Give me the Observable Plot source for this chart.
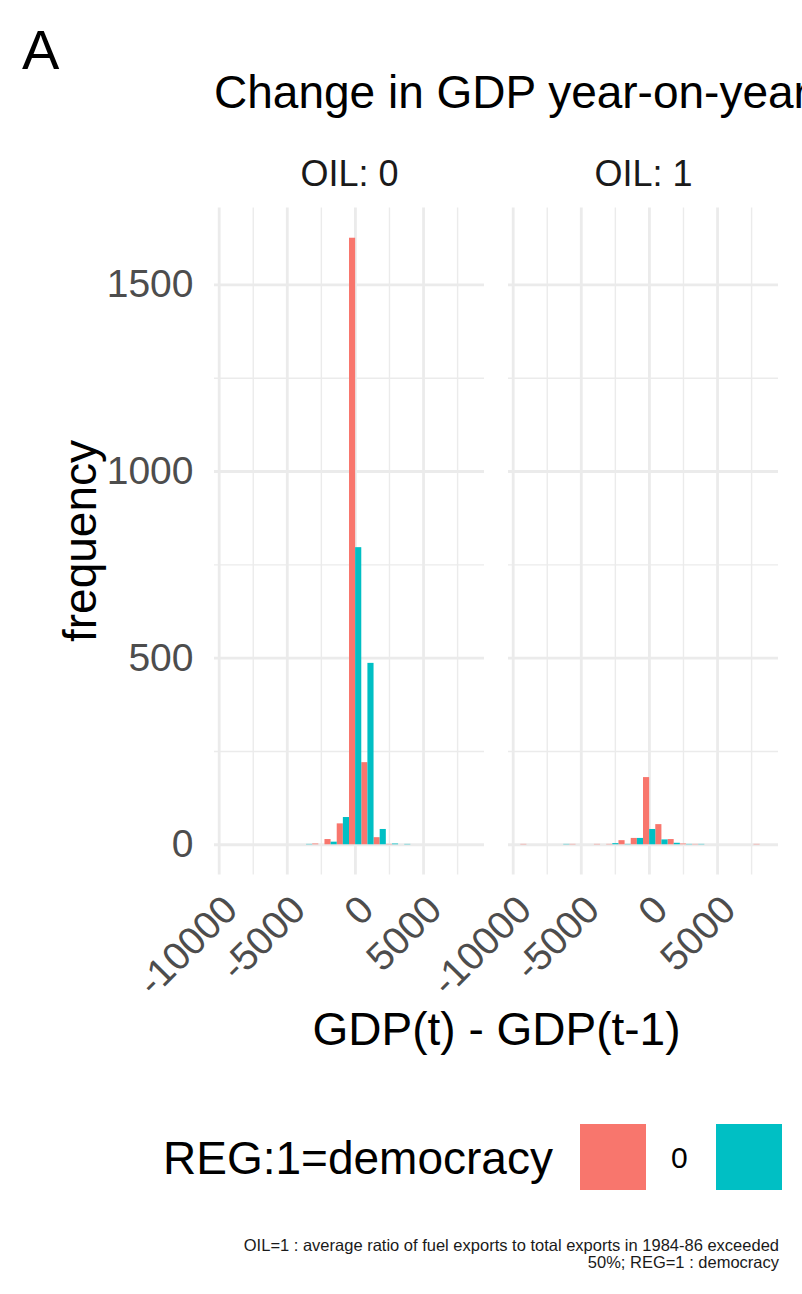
<!DOCTYPE html>
<html><head><meta charset="utf-8">
<script src="https://cdn.jsdelivr.net/npm/d3@7"></script>
<script src="https://cdn.jsdelivr.net/npm/@observablehq/plot@0.6"></script>
<style>
html,body{margin:0;padding:0;background:#fff;}
#root{position:relative;width:802px;height:1294px;overflow:hidden;font-family:"Liberation Sans",Arial,sans-serif;color:#000;}
.abs{position:absolute;white-space:nowrap;line-height:1;}
#chart{position:absolute;left:0;top:130px;}
</style></head><body><div id="root"><div id="chart"></div></div>
<script>
// ---- data ----
const binStart = -9443;      // first bin edge
const binWidth = 900.8;      // histogram bin width
const oilFacets = ["0", "1"];
const regLevels = ["0", "1"];
const regColors = ["#F8766D", "#00BFC4"];
const countsOil0Reg0 = [0,0,0,0,0,0,0,2,14,56,1625,220,19,1,0,0,0,0,0,0];
const countsOil0Reg1 = [0,0,0,0,0,0,1,0,7,73,796,486,41,2,1,0,0,0,0,0];
const countsOil1Reg0 = [1,0,0,0,1,0,1,1,11,17,180,54,14,2,1,0,0,0,0,1];
const countsOil1Reg1 = [0,0,0,1,0,0,0,3,1,17,41,13,4,1,1,0,0,0,0,0];
const xTicks = [-10000, -5000, 0, 5000];
const xMinor = [-7500, -2500, 2500, 7500];
const yTicks = [0, 500, 1000, 1500];
const yMinor = [250, 750, 1250];
const xDomain = [-10343.8, 9473.8];
const yDomain = [-81.25, 1706.25];

// ---- table for the library ----
const rows = [];
[[countsOil0Reg0,"0","0"],[countsOil0Reg1,"0","1"],[countsOil1Reg0,"1","0"],[countsOil1Reg1,"1","1"]]
  .forEach(([arr, oil, reg]) => arr.forEach((c, k) => {
    const edge = binStart + k * binWidth;
    const half = binWidth / 2;
    const off = reg === "0" ? 0 : half;
    rows.push({oil, reg, x1: edge + off, x2: edge + off + half, count: c});
  }));

const fontFamily = '"Liberation Sans", Arial, sans-serif';
const plot = Plot.plot({
  width: 802, height: 940,
  marginLeft: 214, marginRight: 23, marginTop: 77.4, marginBottom: 195.4,
  style: {fontFamily, background: "transparent", overflow: "visible"},
  fx: {domain: oilFacets, paddingInner: 0.08, paddingOuter: 0, axis: null, label: null},
  x: {domain: xDomain},
  y: {domain: yDomain},
  color: {domain: regLevels, range: regColors},
  marks: [
    Plot.ruleY(yMinor, {stroke: "#ebebeb", strokeWidth: 1.4}),
    Plot.ruleX(xMinor, {stroke: "#ebebeb", strokeWidth: 1.4}),
    Plot.ruleY(yTicks, {stroke: "#ebebeb", strokeWidth: 2.8}),
    Plot.ruleX(xTicks, {stroke: "#ebebeb", strokeWidth: 2.8}),
    Plot.rect(rows, {fx: "oil", x1: "x1", x2: "x2", y1: 0, y2: "count", fill: "reg", inset: 0}),
    Plot.text(oilFacets, {fx: d => d, text: d => "OIL: " + d, frameAnchor: "top", dy: -22.4,
      lineAnchor: "bottom", fontSize: 36, fill: "#1a1a1a"}),
    Plot.axisY({ticks: yTicks, tickSize: 0, tickPadding: 21, fontSize: 39, color: "#4d4d4d",
      label: null, tickFormat: d => String(d)}),
    Plot.axisX({ticks: xTicks, tickRotate: -45, tickSize: 0, tickPadding: 28, dx: 11.5, fontSize: 39,
      color: "#4d4d4d", label: null, tickFormat: d => String(d)})
  ]
});
document.getElementById("chart").appendChild(plot);

// ---- surrounding text and legend ----
const root = document.getElementById("root");
function addText(txt, css) {
  const d = document.createElement("div");
  d.className = "abs";
  d.textContent = txt;
  Object.assign(d.style, css);
  root.appendChild(d);
  return d;
}
addText("A", {left: "22px", top: "21.6px", fontSize: "56px"});
addText("Change in GDP year-on-year", {left: "214px", top: "69px", fontSize: "46px"});
addText("frequency", {left: "80px", top: "541px", fontSize: "46px", transform: "translate(-50%,-50%) rotate(-90deg)"});
addText("GDP(t) - GDP(t-1)", {left: "496.5px", top: "1006px", fontSize: "46px", transform: "translateX(-50%)"});
addText("REG:1=democracy", {left: "163px", top: "1135px", fontSize: "46px"});
const keyLeft = [580, 716];
const labelLeft = [671, 807];
regLevels.forEach((r, i) => {
  const k = document.createElement("div");
  Object.assign(k.style, {position: "absolute", left: keyLeft[i] + "px", top: "1124px", width: "66px", height: "66px", background: regColors[i]});
  root.appendChild(k);
  addText(r, {left: labelLeft[i] + "px", top: "1142.6px", fontSize: "30px"});
});
const cap = addText("", {right: "23px", top: "1237px", fontSize: "16.5px", lineHeight: "17px", textAlign: "right", color: "#1a1a1a"});
cap.innerHTML = "OIL=1 : average ratio of fuel exports to total exports in 1984-86 exceeded<br>50%; REG=1 : democracy";
</script>
</body></html>
